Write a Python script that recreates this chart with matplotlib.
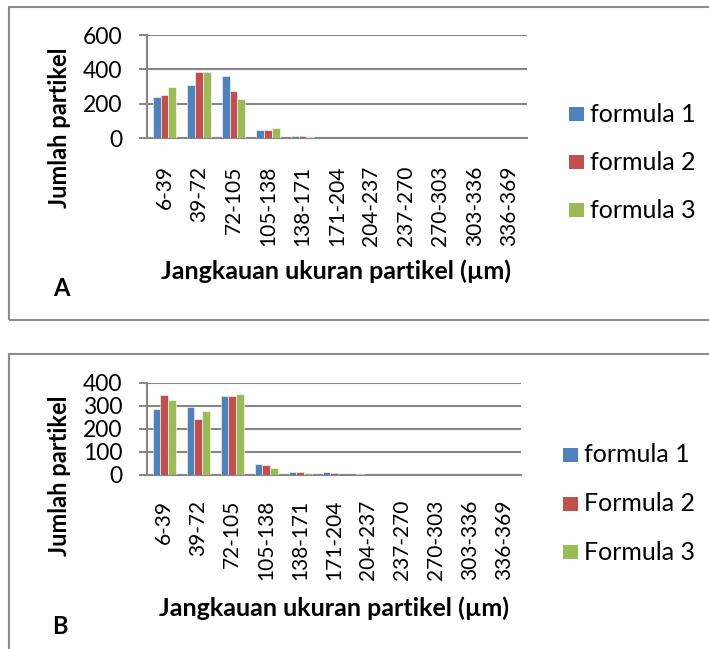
import numpy as np
import matplotlib.pyplot as plt
from matplotlib.patches import Rectangle

plt.rcParams['font.family'] = ['Lato', 'DejaVu Sans']

# Data
categories = ['6-39', '39-72', '72-105', '105-138', '138-171', '171-204',
              '204-237', '237-270', '270-303', '303-336', '336-369']

a_formula1 = [240, 311, 362, 46, 13, 0, 0, 0, 0, 0, 0]
a_formula2 = [253, 387, 277, 48, 12, 0, 0, 0, 0, 0, 0]
a_formula3 = [298, 383, 228, 58, 8, 0, 0, 0, 0, 0, 0]

b_formula1 = [286, 293, 342, 46, 12, 12, 1, 0, 0, 0, 0]
b_formula2 = [347, 244, 342, 42, 10, 8, 0, 0, 0, 0, 0]
b_formula3 = [325, 278, 352, 28, 8, 0, 0, 0, 0, 0, 0]

a_names = ['formula 1', 'formula 2', 'formula 3']
b_names = ['formula 1', 'Formula 2', 'Formula 3']

colors = ['#4F81BD', '#C0504D', '#9BBB59']
grid_col = '#868686'

W, H = 709, 649
fig = plt.figure(figsize=(W / 100, H / 100), dpi=100)


def px(x, y):
    """pixel coords (top-left origin) -> figure fraction"""
    return x / W, 1 - y / H


def axes_px(left, top, right, bottom):
    x0, y1 = px(left, top)
    x1, y0 = px(right, bottom)
    return fig.add_axes([x0, y0, x1 - x0, y1 - y0])


def draw_panel(ax, series, names, ymax, ystep, leg_x, leg_y0, leg_dy, xpad):
    x = np.arange(len(categories))
    width = 0.225
    for i, (vals, name, c) in enumerate(zip(series, names, colors)):
        ax.bar(x + (i - 1) * width, vals, width, color=c,
               edgecolor='white', linewidth=0.4, zorder=3)
    ax.set_xlim(-0.5, len(categories) - 0.5)
    ax.set_ylim(0, ymax)
    ax.set_yticks(np.arange(0, ymax + 1, ystep))
    ax.set_xticks(x)
    ax.set_xticklabels(categories, rotation=90, fontsize=15)
    ax.tick_params(axis='x', length=0, pad=xpad)
    ax.tick_params(axis='y', labelsize=16.5, length=6, width=1.4,
                   color=grid_col, pad=12)
    ax.yaxis.grid(True, color=grid_col, linewidth=1.5, zorder=0)
    for s in ['top', 'right']:
        ax.spines[s].set_visible(False)
    for s in ['left', 'bottom']:
        ax.spines[s].set_color(grid_col)
        ax.spines[s].set_linewidth(1.5)
    ax.set_axisbelow(True)

    # legend drawn as squares + text
    for i, (name, c) in enumerate(zip(names, colors)):
        cx, cy = px(leg_x, leg_y0 + i * leg_dy)
        fig.patches.append(Rectangle((cx, cy - 7 / H), 15 / W, 14 / H,
                                     transform=fig.transFigure,
                                     facecolor=c, edgecolor='none'))
        fig.text(cx + 21 / W, cy, name, fontsize=18, va='center', ha='left')


# frames
for (l, t, r, b) in [(8.5, 7, 712, 319.5), (8.5, 353.5, 712, 660)]:
    x0, y1 = px(l, t)
    x1, y0 = px(r, b)
    fig.patches.append(Rectangle((x0, y0), x1 - x0, y1 - y0,
                                 transform=fig.transFigure, fill=False,
                                 edgecolor='#8c8c8c', linewidth=1.5))

# panel A
axA = axes_px(147.3, 35, 526.7, 138.3)
draw_panel(axA, [a_formula1, a_formula2, a_formula3], a_names,
           600, 200, 569, 114, 48, 19.5)
fig.text(*px(336, 271), 'Jangkauan ukuran partikel (µm)', fontsize=18,
         fontweight='bold', ha='center', va='center')
fig.text(*px(60, 128), 'Jumlah partikel', fontsize=17, fontweight='bold',
         rotation=90, ha='center', va='center')
fig.text(*px(61, 288), 'A', fontsize=17, fontweight='bold',
         ha='center', va='center')

# panel B
axB = axes_px(147.3, 382.7, 520.7, 474.7)
draw_panel(axB, [b_formula1, b_formula2, b_formula3], b_names,
           400, 100, 563, 455, 48.5, 18)
fig.text(*px(334, 608), 'Jangkauan ukuran partikel (µm)', fontsize=18,
         fontweight='bold', ha='center', va='center')
fig.text(*px(60, 476), 'Jumlah partikel', fontsize=17, fontweight='bold',
         rotation=90, ha='center', va='center')
fig.text(*px(60, 626), 'B', fontsize=17, fontweight='bold',
         ha='center', va='center')

fig.savefig('out.png', dpi=100)
